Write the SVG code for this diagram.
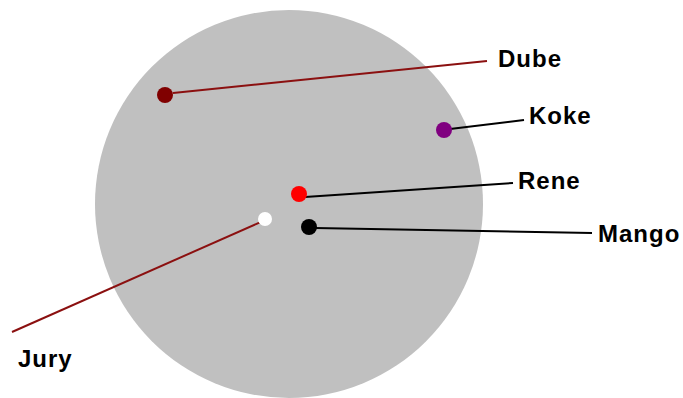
<svg xmlns="http://www.w3.org/2000/svg" width="683" height="398" viewBox="0 0 683 398">
<style>
.lbl{font-family:"Liberation Sans",Arial,sans-serif;font-weight:bold;font-size:24px;letter-spacing:1px;fill:#000}
.ln{fill:none;stroke-width:2}
.dk{stroke:#000}
.rd{stroke:#8b1010}
</style>
<rect width="683" height="398" fill="#fff"/>
<g id="disc"><circle cx="289" cy="204" r="194" fill="#c0c0c0"/></g>
<g id="connectors">
<line class="ln rd" x1="173" y1="93" x2="487" y2="61"/>
<line class="ln dk" x1="450" y1="129" x2="524" y2="120"/>
<line class="ln dk" x1="305" y1="197" x2="513" y2="183"/>
<line class="ln dk" x1="315" y1="228" x2="592" y2="233"/>
<line class="ln rd" x1="263" y1="221" x2="12" y2="332"/>
</g>
<g id="dube"><circle cx="165" cy="95" r="8" fill="#800000"/><text class="lbl" x="498" y="67">Dube</text></g>
<g id="koke"><circle cx="444" cy="130" r="8" fill="#800080"/><text class="lbl" x="529" y="124">Koke</text></g>
<g id="rene"><circle cx="299" cy="194" r="8" fill="#ff0000"/><text class="lbl" x="518" y="189">Rene</text></g>
<g id="mango"><circle cx="309" cy="227" r="8" fill="#000"/><text class="lbl" x="598" y="242">Mango</text></g>
<g id="jury"><circle cx="265" cy="219" r="7" fill="#fff"/><text class="lbl" x="18" y="367">Jury</text></g>
</svg>
